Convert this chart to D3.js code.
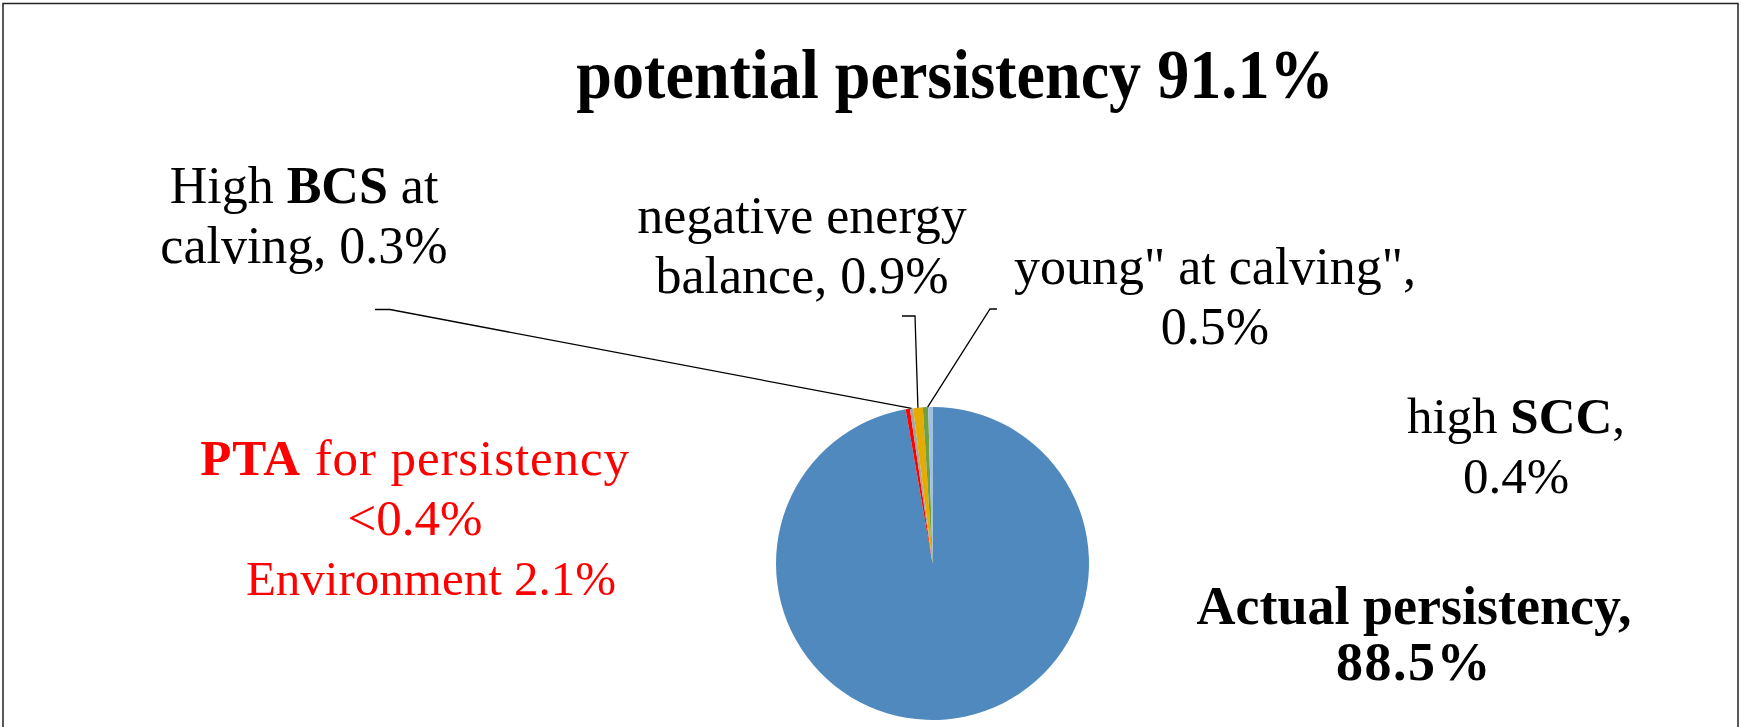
<!DOCTYPE html>
<html>
<head>
<meta charset="utf-8">
<script src="https://cdn.jsdelivr.net/npm/d3@7"></script>
<style>
  html, body { margin: 0; padding: 0; background: #fff; }
  svg { display: block; }
  text { font-family: "Liberation Serif", "Times New Roman", serif; }
</style>
</head>
<body>
<svg id="chart" width="1741" height="727"></svg>
<script>
// Persistency components (% of potential persistency), in drawing order
const categories = ["Actual persistency", "PTA for persistency", "High BCS at calving",
                    "negative energy balance", "young at calving", "high SCC"];
const values = [88.5, 0.4, 0.3, 0.9, 0.5, 0.4];
const colors = ["#5089BE", "#FF0000", "#A5A5A5", "#E4AC00", "#6FA044", "#9FC0E4"];
const titleText = "potential persistency 91.1%";
const environmentText = "Environment 2.1%";

const svg = d3.select("#chart");

// outer frame
svg.append("rect")
  .attr("x", 3).attr("y", 3.5).attr("width", 1735).attr("height", 740)
  .attr("fill", "none").attr("stroke", "#222").attr("stroke-width", 1.5);

// title (slightly condensed bold serif)
svg.append("text")
  .attr("transform", "translate(955,98) scale(0.93,1)")
  .attr("text-anchor", "middle")
  .attr("font-size", 69).attr("font-weight", "bold")
  .text(titleText);

// pie
const cx = 932.5, cy = 563.5, R = 156.5;
const data = categories.map((c, i) => ({ name: c, value: values[i], color: colors[i] }));
const pie = d3.pie().sort(null).value(d => d.value).startAngle(0).endAngle(2 * Math.PI);
const arcs = pie(data);
const arc = d3.arc().innerRadius(0).outerRadius(R);

const g = svg.append("g").attr("transform", `translate(${cx},${cy})`);
g.selectAll("path").data(arcs).join("path")
  .attr("d", arc)
  .attr("fill", d => d.data.color);

const fmt = v => `${v.toFixed(1)}%`;
const byName = name => arcs.find(a => a.data.name === name);

// point on the rim of a slice at fraction t of its angular span, in page coordinates
function rimPoint(a, t = 0.5) {
  const m = a.startAngle + (a.endAngle - a.startAngle) * t;
  return [cx + R * Math.sin(m), cy - R * Math.cos(m)];
}

// leader lines: elbow points are layout, the end sits on the slice
const leaders = [
  { name: "High BCS at calving", t: 0.5, pts: [[375, 309.5], [390, 309.5]] },
  { name: "negative energy balance", t: 0.5, pts: [[902, 316], [915, 316]] },
  { name: "young at calving", t: 0.9, pts: [[997, 309], [990, 309]] }
];
leaders.forEach(l => {
  const pts = l.pts.concat([rimPoint(byName(l.name), l.t)]);
  svg.append("path")
    .attr("d", d3.line()(pts))
    .attr("fill", "none").attr("stroke", "#000").attr("stroke-width", 1.3);
});

// multi-line labels; each line is an array of [text, bold] runs,
// or {x, ls, size, runs} to give a line its own centre, spacing and size
function label(x, y, lines, opts = {}) {
  const size = opts.size || 52, lh = opts.lh || 60;
  const t = svg.append("text")
    .attr("x", x).attr("y", y)
    .attr("text-anchor", "middle")
    .attr("font-size", size)
    .attr("fill", opts.color || "#000");
  lines.forEach((line, i) => {
    const plain = Array.isArray(line);
    const runs = plain ? line : line.runs;
    const lx = plain ? x : (line.x ?? x);
    runs.forEach((r, j) => {
      const s = t.append("tspan").text(r[0]);
      if (j === 0) s.attr("x", lx).attr("dy", i === 0 ? 0 : lh);
      if (r[1]) s.attr("font-weight", "bold");
      if (!plain && line.ls != null) s.attr("letter-spacing", line.ls);
      if (!plain && line.size != null) s.attr("font-size", line.size);
    });
  });
}

const v = name => fmt(byName(name).data.value);

label(304, 203, [[["High ", false], ["BCS", true], [" at", false]],
                 [[`calving, ${v("High BCS at calving")}`, false]]]);
label(802, 233, [[["negative energy", false]],
                 [[`balance, ${v("negative energy balance")}`, false]]]);
label(1215, 284, [[['young" at calving",', false]],
                  [[v("young at calving"), false]]]);
label(1516, 433, [[["high ", false], ["SCC", true], [",", false]],
                  [[v("high SCC"), false]]], { size: 51 });
label(1414, 624, [[["Actual persistency,", true]],
                  { ls: 1.5, runs: [[v("Actual persistency"), true]] }], { lh: 56, size: 54 });
label(415, 475, [{ x: 415, ls: 0.9, runs: [["PTA", true], [" for persistency", false]] },
                 [["<" + v("PTA for persistency"), false]],
                 { x: 431, size: 49, runs: [[environmentText, false]] }],
      { color: "#FF0000", size: 51 });
</script>
</body>
</html>
